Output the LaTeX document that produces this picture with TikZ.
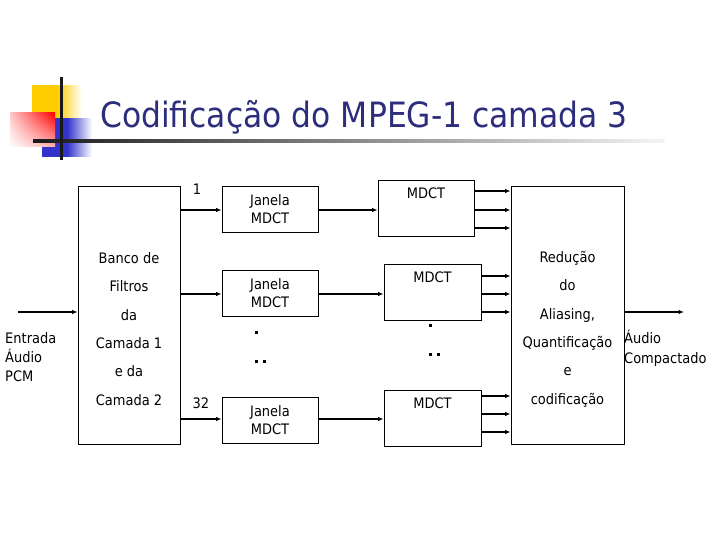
\documentclass[tikz,border=0pt]{standalone}
\usepackage{fontspec}
\setmainfont[FakeStretch=0.9]{DejaVu Sans}
\usetikzlibrary{arrows.meta,calc,shadings}
\definecolor{titleblue}{RGB}{45,45,125}
\definecolor{logoyellow}{RGB}{255,204,0}
\definecolor{logoblue}{RGB}{51,51,204}
\begin{document}
\begin{tikzpicture}[x=1bp,y=-1bp,
  box/.style={draw, line width=0.9bp, inner sep=0pt},
  txt/.style={inner sep=0pt, font=\fontsize{14.5}{18}\selectfont},
  arr/.style={line width=2bp, -{Latex[length=5.5bp,width=4.5bp]}},
  dotmark/.style={fill=black}]
\useasboundingbox (0,0) rectangle (720,540);
% logo
\shade[left color=logoyellow, right color=white, middle color=logoyellow] (32,86) rectangle (82,120);
\shade[left color=logoblue, right color=white, middle color=logoblue] (42,119) rectangle (92,157);
\shade[upper right=red, upper left=red!22, lower right=red!30, lower left=white] (10,113) rectangle (55,147);
\shade[left color=black!90, right color=black!4] (33,139.5) rectangle (665,142.5);
\fill[black!90] (59.7,77) rectangle (62.5,160);
% title
\node[anchor=base west, inner sep=0pt, text=titleblue, font=\fontsize{35}{40}\selectfont] (title) at (100,127.5) {Codificação do MPEG-1 camada 3};
% boxes
\node[box, minimum width=102bp, minimum height=258bp] (banco) at (129,315) {};
\node[txt, align=center, font=\fontsize{14.5}{28.5}\selectfont] (bancotxt) at (129,329) {Banco de\\Filtros\\da\\Camada 1\\e da\\Camada 2};
\node[box, minimum width=96bp, minimum height=46bp, txt, align=center] (j1) at (270,209) {Janela\\MDCT};
\node[box, minimum width=96bp, minimum height=46bp, txt, align=center] (j2) at (270,293) {Janela\\MDCT};
\node[box, minimum width=96bp, minimum height=46bp, txt, align=center] (j3) at (270,420) {Janela\\MDCT};
\node[box, minimum width=96bp, minimum height=56bp] (m1) at (426,208) {};
\node[box, minimum width=97bp, minimum height=56bp] (m2) at (432.5,292) {};
\node[box, minimum width=97bp, minimum height=56bp] (m3) at (432.5,418) {};
\node[txt] (m1t) at ($(m1.north)+(0,14)$) {MDCT};
\node[txt] (m2t) at ($(m2.north)+(0,14)$) {MDCT};
\node[txt] (m3t) at ($(m3.north)+(0,14)$) {MDCT};
\node[box, minimum width=113bp, minimum height=258bp] (red) at (567.5,315) {};
\node[txt, align=center, font=\fontsize{14.5}{28.5}\selectfont] (redtxt) at (567.5,329) {Redução\\do\\Aliasing,\\Quantificação\\e\\codificação};
% labels
\node[txt] (l1) at (197,189) {1};
\node[txt] (l32) at (201,403) {32};
\node[txt, anchor=west, align=left, font=\fontsize{14.5}{19}\selectfont] (entrada) at (5,357) {Entrada\\Áudio\\PCM};
\node[txt, anchor=west, align=left, font=\fontsize{14.5}{20}\selectfont] (saida) at (624,348) {Áudio\\Compactado};
\coordinate (inp) at (18,312);
\coordinate (outp) at (684,312);
% dots
\fill[dotmark] (254.5,330.5) rectangle ++(3,3);
\fill[dotmark] (254.5,359.5) rectangle ++(3,3);
\fill[dotmark] (262.5,359.5) rectangle ++(3,3);
\fill[dotmark] (428.5,323.5) rectangle ++(3,3);
\fill[dotmark] (428.5,352.5) rectangle ++(3,3);
\fill[dotmark] (436.5,352.5) rectangle ++(3,3);
% arrows
\draw[arr] (inp) -- (inp -| banco.west);
\draw[arr] (banco.east |- 0,210) -- (j1.west |- 0,210);
\draw[arr] (banco.east |- 0,294) -- (j2.west |- 0,294);
\draw[arr] (banco.east |- 0,419) -- (j3.west |- 0,419);
\draw[arr] (j1.east |- 0,210) -- (m1.west |- 0,210);
\draw[arr] (j2.east |- 0,294) -- (m2.west |- 0,294);
\draw[arr] (j3.east |- 0,419) -- (m3.west |- 0,419);
\foreach \y in {191,210,228} \draw[arr] (m1.east |- 0,\y) -- (red.west |- 0,\y);
\foreach \y in {276,294,312} \draw[arr] (m2.east |- 0,\y) -- (red.west |- 0,\y);
\foreach \y in {396,414,432} \draw[arr] (m3.east |- 0,\y) -- (red.west |- 0,\y);
\draw[arr] (red.east |- outp) -- (outp);
\end{tikzpicture}
\end{document}
